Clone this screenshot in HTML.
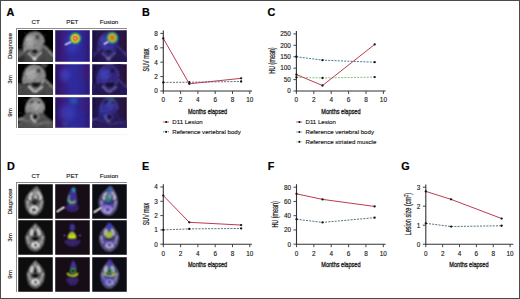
<!DOCTYPE html>
<html><head><meta charset="utf-8"><title>Figure</title>
<style>
html,body{margin:0;padding:0;background:#fff;}
body{width:520px;height:299px;overflow:hidden;font-family:"Liberation Sans", sans-serif;}
svg{display:block;}
</style></head><body>
<svg width="520" height="299" viewBox="0 0 520 299" font-family='"Liberation Sans", sans-serif'>
<defs>
<filter id="b4" x="-20%" y="-20%" width="140%" height="140%"><feConvolveMatrix order="3" kernelMatrix="1 2 1 2 8 2 1 2 1" edgeMode="none"/></filter>
<filter id="b6" x="-20%" y="-20%" width="140%" height="140%"><feConvolveMatrix order="3" kernelMatrix="1 2 1 2 4 2 1 2 1" edgeMode="none"/></filter>
<filter id="cb" x="-5%" y="-5%" width="110%" height="110%"><feConvolveMatrix order="3" kernelMatrix="1 2 1 2 6 2 1 2 1" edgeMode="duplicate"/></filter>
<filter id="b10" x="-30%" y="-30%" width="160%" height="160%"><feGaussianBlur stdDeviation="1.0"/></filter>
<filter id="b15" x="-50%" y="-50%" width="200%" height="200%"><feGaussianBlur stdDeviation="1.5"/></filter>
<filter id="b25" x="-50%" y="-50%" width="200%" height="200%"><feGaussianBlur stdDeviation="2.5"/></filter>
<filter id="mot" x="-10%" y="-10%" width="120%" height="120%">
 <feTurbulence type="fractalNoise" baseFrequency="0.55" numOctaves="2" seed="4" result="t"/>
 <feColorMatrix in="t" type="matrix" values="0 0 0 0 0  0 0 0 0 0  0 0 0 0 0  2.2 0 0 0 -0.85" result="dk"/>
 <feComposite in="dk" in2="SourceAlpha" operator="in" result="dk2"/>
 <feMerge result="m"><feMergeNode in="SourceGraphic"/><feMergeNode in="dk2"/></feMerge>
 <feConvolveMatrix in="m" order="3" kernelMatrix="1 2 1 2 8 2 1 2 1" edgeMode="none"/>
</filter>
<filter id="mot2" x="-10%" y="-10%" width="120%" height="120%">
 <feTurbulence type="fractalNoise" baseFrequency="0.45" numOctaves="2" seed="9" result="t"/>
 <feColorMatrix in="t" type="matrix" values="0 0 0 0 0  0 0 0 0 0  0 0 0 0 0  1.3 0 0 0 -0.5" result="dk"/>
 <feComposite in="dk" in2="SourceAlpha" operator="in" result="dk2"/>
 <feMerge result="m"><feMergeNode in="SourceGraphic"/><feMergeNode in="dk2"/></feMerge>
 <feConvolveMatrix in="m" order="3" kernelMatrix="1 2 1 2 4 2 1 2 1" edgeMode="none"/>
</filter>
<filter id="mot3" x="-10%" y="-10%" width="120%" height="120%">
 <feTurbulence type="fractalNoise" baseFrequency="0.5" numOctaves="2" seed="7" result="t"/>
 <feColorMatrix in="t" type="matrix" values="0 0 0 0 0.07  0 0 0 0 0.04  0 0 0 0 0.07  3 0 0 0 -1.1" result="dk"/>
 <feComposite in="dk" in2="SourceAlpha" operator="in" result="dk2"/>
 <feMerge result="m"><feMergeNode in="SourceGraphic"/><feMergeNode in="dk2"/></feMerge>
 <feConvolveMatrix in="m" order="3" kernelMatrix="1 2 1 2 6 2 1 2 1" edgeMode="none"/>
</filter>
<filter id="gb" x="0" y="0" width="520" height="299" filterUnits="userSpaceOnUse"><feConvolveMatrix order="3" kernelMatrix="1 2 1 2 20 2 1 2 1" edgeMode="none"/></filter>
<radialGradient id="hot">
 <stop offset="0" stop-color="#fff8f0"/>
 <stop offset="0.08" stop-color="#ffd8c8"/>
 <stop offset="0.17" stop-color="#e83a22"/>
 <stop offset="0.3" stop-color="#d83a1c"/>
 <stop offset="0.4" stop-color="#f0c020"/>
 <stop offset="0.5" stop-color="#c8e030"/>
 <stop offset="0.62" stop-color="#48b040"/>
 <stop offset="0.78" stop-color="#2a7a78" stop-opacity="0.8"/>
 <stop offset="0.9" stop-color="#2838a8" stop-opacity="0.5"/>
 <stop offset="1" stop-color="#3030b0" stop-opacity="0"/>
</radialGradient>
<radialGradient id="hotf">
 <stop offset="0" stop-color="#d88a30"/>
 <stop offset="0.2" stop-color="#c86a20"/>
 <stop offset="0.36" stop-color="#c4a030"/>
 <stop offset="0.5" stop-color="#a4b840"/>
 <stop offset="0.68" stop-color="#40a050"/>
 <stop offset="0.85" stop-color="#2a5aa0" stop-opacity="0.6"/>
 <stop offset="1" stop-color="#3030a0" stop-opacity="0"/>
</radialGradient>
<linearGradient id="petbg" x1="0" y1="0" x2="1" y2="0">
 <stop offset="0" stop-color="#2a1262"/>
 <stop offset="0.22" stop-color="#3a1c7c"/>
 <stop offset="0.45" stop-color="#2e2a9c"/>
 <stop offset="0.75" stop-color="#2e2896"/>
 <stop offset="1" stop-color="#2c1872"/>
</linearGradient>
<linearGradient id="fusbg" x1="0" y1="0" x2="1" y2="0">
 <stop offset="0" stop-color="#1e1040"/>
 <stop offset="0.5" stop-color="#241a56"/>
 <stop offset="1" stop-color="#2a1038"/>
</linearGradient>
</defs>
<rect width="520" height="299" fill="#fff"/>
<g>
<text x="6.6" y="15.8" font-size="10.8" fill="#000" text-anchor="start" font-weight="bold" stroke="#000" stroke-width="0.2" >A</text>
<text x="142" y="15.8" font-size="10.8" fill="#000" text-anchor="start" font-weight="bold" stroke="#000" stroke-width="0.2" >B</text>
<text x="267.5" y="16" font-size="10.8" fill="#000" text-anchor="start" font-weight="bold" stroke="#000" stroke-width="0.2" >C</text>
<text x="6.9" y="169.5" font-size="10.8" fill="#000" text-anchor="start" font-weight="bold" stroke="#000" stroke-width="0.2" >D</text>
<text x="142" y="169.5" font-size="10.8" fill="#000" text-anchor="start" font-weight="bold" stroke="#000" stroke-width="0.2" >E</text>
<text x="267.8" y="169.5" font-size="10.8" fill="#000" text-anchor="start" font-weight="bold" stroke="#000" stroke-width="0.2" >F</text>
<text x="401.3" y="169.7" font-size="10.8" fill="#000" text-anchor="start" font-weight="bold" stroke="#000" stroke-width="0.2" >G</text>
<rect x="16" y="28" width="111" height="1" fill="#8c8c8c"/>
<rect x="16" y="28" width="1" height="100" fill="#8c8c8c"/>
<svg x="18" y="30" width="35" height="32" viewBox="18 30 35 32" overflow="hidden"><g filter="url(#cb)">
<g transform="translate(18,30)" filter="url(#mot2)">
<rect x="-2" y="-2" width="39" height="36" fill="#0a0a0a"/>
<path d="M-1,20 C3,19 6,20 7,21 L22,20 C24,17 25,16 26,15.5 C29,17 33,21 36,24 L36,33 L-1,33 Z" fill="#505050"/>
<ellipse cx="3" cy="29" rx="4" ry="3" fill="#1a1a1a" opacity="0.6" filter="url(#b10)"/>
<path d="M6.4,21.5 C5,14 7,4 15.5,2.7 C21,2 25.5,6 25.5,12 C25.5,15 24.5,18 22.5,20.5 C18,19 11,19 6.4,21.5 Z" fill="#939393"/>
<ellipse cx="12" cy="11" rx="4" ry="6.5" fill="#b2b2b2" filter="url(#b10)"/>
<path d="M6.4,21.5 C5,14 7,4 15.5,2.7 C21,2 25.5,6 25.5,12" fill="none" stroke="#d0d0d0" stroke-width="0.9" opacity="0.8"/>
<ellipse cx="19.5" cy="7" rx="2" ry="2.6" fill="#404040" filter="url(#b6)"/>
<path d="M11.8,21.5 L16.5,17.7 L21.4,21.3 L17,25.2 Z" fill="#1a1a1a" stroke="#d0d0d0" stroke-width="0.8"/>
<path d="M10,23 L15,27.5 L16.5,30 L18.5,27 L23.5,22" fill="none" stroke="#eeeeee" stroke-width="1.2" opacity="0.85"/>
<ellipse cx="16.5" cy="28.5" rx="1.6" ry="1.6" fill="#eeeeee"/>
<path d="M25.7,16 L35,25.7" stroke="#a8a8a8" stroke-width="1.3"/>
<path d="M6.4,21.5 L0,27" stroke="#a8a8a8" stroke-width="0.8"/>
</g>
</g></svg>
<svg x="55" y="30" width="35" height="32" viewBox="55 30 35 32" overflow="hidden"><g filter="url(#cb)">
<g transform="translate(55,30)">
<rect x="0" y="0" width="35" height="32" fill="url(#petbg)"/>
<ellipse cx="17" cy="14" rx="7" ry="9" fill="#3a40c8" opacity="0.55" filter="url(#b25)"/>
<circle cx="20.3" cy="8.4" r="7.2" fill="url(#hot)"/>
<line x1="10.7" y1="14.5" x2="15.8" y2="12" stroke="#e4e0ff" stroke-width="1.3" stroke-linecap="round"/>
</g></g></svg>
<svg x="92" y="30" width="35" height="32" viewBox="92 30 35 32" overflow="hidden"><g filter="url(#cb)">
<rect x="92" y="30" width="35" height="32" fill="url(#fusbg)"/>
<g transform="translate(92,30)" filter="url(#mot2)">
<path d="M-1,20 C3,19 6,20 7,21 L22,20 C24,17 25,16 26,15.5 C29,17 33,21 36,24 L36,33 L-1,33 Z" fill="#2a1e5c"/>
<ellipse cx="3" cy="29" rx="4" ry="3" fill="#1c1244" opacity="0.6" filter="url(#b10)"/>
<path d="M6.4,21.5 C5,14 7,4 15.5,2.7 C21,2 25.5,6 25.5,12 C25.5,15 24.5,18 22.5,20.5 C18,19 11,19 6.4,21.5 Z" fill="#382c88"/>
<ellipse cx="12" cy="11" rx="4" ry="6.5" fill="#4640a8" filter="url(#b10)"/>
<path d="M6.4,21.5 C5,14 7,4 15.5,2.7 C21,2 25.5,6 25.5,12" fill="none" stroke="#5e54a8" stroke-width="0.9" opacity="0.8"/>
<ellipse cx="19.5" cy="7" rx="2" ry="2.6" fill="#221850" filter="url(#b6)"/>
<path d="M11.8,21.5 L16.5,17.7 L21.4,21.3 L17,25.2 Z" fill="#1c1244" stroke="#5e54a8" stroke-width="0.8"/>
<path d="M10,23 L15,27.5 L16.5,30 L18.5,27 L23.5,22" fill="none" stroke="#8076c4" stroke-width="1.2" opacity="0.85"/>
<ellipse cx="16.5" cy="28.5" rx="1.6" ry="1.6" fill="#8076c4"/>
<path d="M25.7,16 L35,25.7" stroke="#52489c" stroke-width="1.3"/>
<path d="M6.4,21.5 L0,27" stroke="#52489c" stroke-width="0.8"/>
</g>
<g transform="translate(92,30)">
<ellipse cx="17" cy="14" rx="6" ry="8" fill="#3a44d0" opacity="0.35" filter="url(#b25)"/>
<circle cx="20.3" cy="7.8" r="7" fill="url(#hotf)"/>
<line x1="12.3" y1="13.9" x2="16" y2="11.8" stroke="#e4e0ff" stroke-width="1.2" stroke-linecap="round"/>
</g></g></svg>
<svg x="18" y="64" width="35" height="31" viewBox="18 64 35 31" overflow="hidden"><g filter="url(#cb)">
<g transform="translate(18,64)" filter="url(#mot2)">
<rect x="-2" y="-2" width="39" height="36" fill="#0a0a0a"/>
<path d="M-1,20 C3,19 5,20 6,20.5 L24.5,19.5 C25,17 25.5,16 26,15 C29,17 33,20 36,23 L36,32 L-1,32 Z" fill="#505050"/>
<path d="M22,-1 L30,-1 C29,2 27,4 25,4 Z" fill="#505050"/>
<path d="M5.7,20 C4.5,10 8,1.6 16,1.6 C23,1.6 27,6 26.9,13 C26.8,17 25.5,19 24.5,20 C18,18 11,18 5.7,20 Z" fill="#939393"/>
<ellipse cx="13" cy="10" rx="5" ry="6" fill="#b2b2b2" filter="url(#b10)"/>
<path d="M5.7,20 C4.5,10 8,1.6 16,1.6 C23,1.6 27,6 26.9,13" fill="none" stroke="#d0d0d0" stroke-width="0.9" opacity="0.8"/>
<ellipse cx="20.7" cy="6.7" rx="2" ry="2.4" fill="#404040"/>
<path d="M11.4,18.5 C15,17 21,17 24.8,18 L21,24 L15,24.5 Z" fill="#1a1a1a" stroke="#d0d0d0" stroke-width="0.7"/>
<path d="M10.4,22.3 L15.5,27 L18,27.5 L24.8,22.5" fill="none" stroke="#eeeeee" stroke-width="1.5"/>
<path d="M26,15 L35,24" stroke="#a8a8a8" stroke-width="1.2"/>
</g>
</g></svg>
<svg x="55" y="64" width="35" height="31" viewBox="55 64 35 31" overflow="hidden"><g filter="url(#cb)">
<g transform="translate(55,64)">
<rect x="0" y="0" width="35" height="31" fill="url(#petbg)"/>
<ellipse cx="10" cy="11" rx="5" ry="6" fill="#4048d0" opacity="0.7" filter="url(#b25)"/>
<ellipse cx="31" cy="9" rx="4" ry="7" fill="#4a1a68" opacity="0.6" filter="url(#b25)"/>
</g></g></svg>
<svg x="92" y="64" width="35" height="31" viewBox="92 64 35 31" overflow="hidden"><g filter="url(#cb)">
<rect x="92" y="64" width="35" height="31" fill="url(#fusbg)"/>
<g transform="translate(92,64)" filter="url(#mot2)">
<path d="M-1,20 C3,19 5,20 6,20.5 L24.5,19.5 C25,17 25.5,16 26,15 C29,17 33,20 36,23 L36,32 L-1,32 Z" fill="#2a1e5c"/>
<path d="M22,-1 L30,-1 C29,2 27,4 25,4 Z" fill="#2a1e5c"/>
<path d="M5.7,20 C4.5,10 8,1.6 16,1.6 C23,1.6 27,6 26.9,13 C26.8,17 25.5,19 24.5,20 C18,18 11,18 5.7,20 Z" fill="#382c88"/>
<ellipse cx="13" cy="10" rx="5" ry="6" fill="#4640a8" filter="url(#b10)"/>
<path d="M5.7,20 C4.5,10 8,1.6 16,1.6 C23,1.6 27,6 26.9,13" fill="none" stroke="#5e54a8" stroke-width="0.9" opacity="0.8"/>
<ellipse cx="20.7" cy="6.7" rx="2" ry="2.4" fill="#221850"/>
<path d="M11.4,18.5 C15,17 21,17 24.8,18 L21,24 L15,24.5 Z" fill="#1c1244" stroke="#5e54a8" stroke-width="0.7"/>
<path d="M10.4,22.3 L15.5,27 L18,27.5 L24.8,22.5" fill="none" stroke="#8076c4" stroke-width="1.5"/>
<path d="M26,15 L35,24" stroke="#52489c" stroke-width="1.2"/>
</g>
<g transform="translate(92,64)">
<ellipse cx="11" cy="12" rx="5" ry="6" fill="#3a44d0" opacity="0.5" filter="url(#b25)"/>
</g></g></svg>
<svg x="18" y="97" width="35" height="31" viewBox="18 97 35 31" overflow="hidden"><g filter="url(#cb)">
<g transform="translate(18,97)" filter="url(#mot2)">
<rect x="-2" y="-2" width="39" height="36" fill="#0a0a0a"/>
<path d="M-1,27 C3,24 6,19 9,15.5 L24.5,16 C27,18 31,23 36,25 L36,32 L-1,32 Z" fill="#5a5a5a"/>
<path d="M8.3,15.5 C8,6 12,1 17,1 C22,1 25.9,6 25.9,12 C25.9,14 25,15.5 24,16.5 C19,15.5 13,15.5 8.3,15.5 Z" fill="#939393"/>
<ellipse cx="18.5" cy="9" rx="5" ry="4" fill="#b2b2b2" filter="url(#b10)"/>
<path d="M8.3,15.5 C8,6 12,1 17,1 C22,1 25.9,6 25.9,12" fill="none" stroke="#d0d0d0" stroke-width="0.9"/>
<ellipse cx="14" cy="5" rx="1.6" ry="1.4" fill="#404040"/>
<ellipse cx="21" cy="5.5" rx="1.6" ry="1.4" fill="#404040"/>
<circle cx="17.1" cy="19.7" r="3.5" fill="#1a1a1a" stroke="#d0d0d0" stroke-width="0.9"/>
<path d="M13.6,18 C13,21 14,23 16,24 L18,25" fill="none" stroke="#eeeeee" stroke-width="1.3"/>
<path d="M0,23 L6,21" stroke="#a8a8a8" stroke-width="1.4"/>
<path d="M5,24 C10,22 12,26 17,27 C23,27 27,25 33,26" stroke="#a8a8a8" stroke-width="0.7" fill="none"/>
</g>
</g></svg>
<svg x="55" y="97" width="35" height="31" viewBox="55 97 35 31" overflow="hidden"><g filter="url(#cb)">
<g transform="translate(55,97)">
<rect x="0" y="0" width="35" height="31" fill="url(#petbg)"/>
<ellipse cx="18.5" cy="4" rx="4" ry="3" fill="#2a78b8" opacity="0.55" filter="url(#b15)"/>
<ellipse cx="12" cy="16" rx="8" ry="8" fill="#4048c8" opacity="0.5" filter="url(#b25)"/>
<ellipse cx="30" cy="9" rx="4" ry="6" fill="#4a1a68" opacity="0.6" filter="url(#b25)"/>
<ellipse cx="10" cy="27" rx="2.5" ry="2" fill="#2a78a8" opacity="0.45" filter="url(#b15)"/>
</g></g></svg>
<svg x="92" y="97" width="35" height="31" viewBox="92 97 35 31" overflow="hidden"><g filter="url(#cb)">
<rect x="92" y="97" width="35" height="31" fill="url(#fusbg)"/>
<g transform="translate(92,97)" filter="url(#mot2)">
<path d="M-1,27 C3,24 6,19 9,15.5 L24.5,16 C27,18 31,23 36,25 L36,32 L-1,32 Z" fill="#2e2264"/>
<path d="M8.3,15.5 C8,6 12,1 17,1 C22,1 25.9,6 25.9,12 C25.9,14 25,15.5 24,16.5 C19,15.5 13,15.5 8.3,15.5 Z" fill="#382c88"/>
<ellipse cx="18.5" cy="9" rx="5" ry="4" fill="#4640a8" filter="url(#b10)"/>
<path d="M8.3,15.5 C8,6 12,1 17,1 C22,1 25.9,6 25.9,12" fill="none" stroke="#5e54a8" stroke-width="0.9"/>
<ellipse cx="14" cy="5" rx="1.6" ry="1.4" fill="#221850"/>
<ellipse cx="21" cy="5.5" rx="1.6" ry="1.4" fill="#221850"/>
<circle cx="17.1" cy="19.7" r="3.5" fill="#1c1244" stroke="#5e54a8" stroke-width="0.9"/>
<path d="M13.6,18 C13,21 14,23 16,24 L18,25" fill="none" stroke="#8076c4" stroke-width="1.3"/>
<path d="M0,23 L6,21" stroke="#52489c" stroke-width="1.4"/>
<path d="M5,24 C10,22 12,26 17,27 C23,27 27,25 33,26" stroke="#52489c" stroke-width="0.7" fill="none"/>
</g>
<g transform="translate(92,97)">
<ellipse cx="12" cy="15" rx="6" ry="7" fill="#3a44d0" opacity="0.4" filter="url(#b25)"/>
<ellipse cx="19" cy="3.5" rx="3" ry="2.5" fill="#2e9a90" opacity="0.45" filter="url(#b15)"/>
</g></g></svg>
<text x="35.6" y="24.3" font-size="6.2" fill="#222" text-anchor="middle" font-weight="normal" stroke="#222" stroke-width="0.14" >CT</text>
<text x="72.3" y="24.3" font-size="6.2" fill="#222" text-anchor="middle" font-weight="normal" stroke="#222" stroke-width="0.14" >PET</text>
<text x="109" y="24.3" font-size="6.2" fill="#222" text-anchor="middle" font-weight="normal" stroke="#222" stroke-width="0.14" >Fusion</text>
<text transform="translate(12,46.0) rotate(-90)" font-size="6.2" fill="#222" stroke="#222" stroke-width="0.14" text-anchor="middle">Diagnose</text>
<text transform="translate(12,79.5) rotate(-90)" font-size="6.2" fill="#222" stroke="#222" stroke-width="0.14" text-anchor="middle">3m</text>
<text transform="translate(12,112.5) rotate(-90)" font-size="6.2" fill="#222" stroke="#222" stroke-width="0.14" text-anchor="middle">9m</text>
<rect x="16" y="134" width="111" height="0.6" fill="#eee"/>
<rect x="16" y="182" width="111" height="1" fill="#8c8c8c"/>
<rect x="16" y="182" width="1" height="110" fill="#8c8c8c"/>
<svg x="18" y="184" width="35" height="35" viewBox="18 184 35 35" overflow="hidden"><g filter="url(#cb)">
<rect x="18" y="184" width="35" height="35" fill="#0a0a0a"/>
<g transform="translate(18,184)" filter="url(#mot)" opacity="1">
<path d="M18.7,2.3 C21,5 25,11 25.2,17.6 C25.5,24 22,31 16.5,31 C11,31 7.5,25 7.2,18 C7,12 14,6 18.7,2.3 Z" fill="#7c7c7c" stroke="#6a6a6a" stroke-width="0.7"/>
<path d="M18.7,3.2 C19.8,5 21,7.5 21,9.5 L16.3,9.5 C16.8,7 17.8,5 18.7,3.2 Z" fill="#b0b0b0"/>
<path d="M12,15.5 C11.5,12 13,9.5 15.5,9 M19.8,9 C22,9.5 23,12 22.6,15.5" stroke="#f6f6f6" stroke-width="2.2" fill="none"/>
<ellipse cx="17.5" cy="12.5" rx="1.6" ry="2.2" fill="#c4c4c4"/>
<ellipse cx="17" cy="18" rx="3.6" ry="3" fill="#3a3a3a"/>
<ellipse cx="16.4" cy="19.3" rx="1.7" ry="1.5" fill="#0e0e0e"/>
<path d="M9.5,17 C9.5,21 10.5,24 12,26 M23.8,17 C23.5,21 22.5,24 21,26" stroke="#c4c4c4" stroke-width="1.3" fill="none"/>
<ellipse cx="15.9" cy="25.7" rx="3.5" ry="3" fill="none" stroke="#f6f6f6" stroke-width="2"/>
<ellipse cx="15.9" cy="25.9" rx="1.3" ry="1.1" fill="#0e0e0e"/>
</g>
</g></svg>
<svg x="55" y="184" width="35" height="35" viewBox="55 184 35 35" overflow="hidden"><g filter="url(#cb)">
<rect x="55" y="184" width="35" height="35" fill="#130a12"/>
<g transform="translate(55,184)">
<path d="M10,23.5 C11.5,20.5 14.5,20 17,20 C20,20 23,20.5 24.5,23.5 C23,27 20,28 17,28 C14,28 11.5,27 10,23.5 Z" fill="#3e22a0" opacity="0.75" filter="url(#mot3)"/>
<path d="M17.6,3 C20,5 21.5,8 21.5,12 C22.5,15 22.5,18 21.5,21 C19.5,23 14.5,23 13,21 C12,18 12,15 13,12 C14,8 16,5 17.6,3 Z" fill="#3a2cb0" filter="url(#mot3)"/>
<ellipse cx="18.8" cy="6" rx="1.6" ry="2.4" fill="#2a9ab8" filter="url(#b6)"/>
<path d="M15,11.5 C13,13 13,17 15,18.5 C17,19.5 19.5,18.5 20.3,16.5" stroke="#50c060" stroke-width="1.4" fill="none" filter="url(#b4)"/>
<path d="M14.2,16 C15,18.8 18,19.2 20,17.5" stroke="#b8e040" stroke-width="1" fill="none" filter="url(#b4)"/>
<line x1="2.3" y1="27.5" x2="8.8" y2="23.4" stroke="#f0f0f0" stroke-width="1.3" stroke-linecap="round"/>
</g></g></svg>
<svg x="92" y="184" width="35" height="35" viewBox="92 184 35 35" overflow="hidden"><g filter="url(#cb)">
<rect x="92" y="184" width="35" height="35" fill="#0e0a12"/>
<g transform="translate(92,184)" filter="url(#mot)" opacity="1">
<path d="M18.7,2.3 C21,5 25,11 25.2,17.6 C25.5,24 22,31 16.5,31 C11,31 7.5,25 7.2,18 C7,12 14,6 18.7,2.3 Z" fill="#5a5490" stroke="#8c86bc" stroke-width="0.7"/>
<path d="M18.7,3.2 C19.8,5 21,7.5 21,9.5 L16.3,9.5 C16.8,7 17.8,5 18.7,3.2 Z" fill="#8a84c0"/>
<path d="M12,15.5 C11.5,12 13,9.5 15.5,9 M19.8,9 C22,9.5 23,12 22.6,15.5" stroke="#e0dcf4" stroke-width="2.2" fill="none"/>
<ellipse cx="17.5" cy="12.5" rx="1.6" ry="2.2" fill="#b8b2dc"/>
<ellipse cx="17" cy="18" rx="3.6" ry="3" fill="#2a2260"/>
<ellipse cx="16.4" cy="19.3" rx="1.7" ry="1.5" fill="#140e2a"/>
<path d="M9.5,17 C9.5,21 10.5,24 12,26 M23.8,17 C23.5,21 22.5,24 21,26" stroke="#b8b2dc" stroke-width="1.3" fill="none"/>
<ellipse cx="15.9" cy="25.7" rx="3.5" ry="3" fill="none" stroke="#e0dcf4" stroke-width="2"/>
<ellipse cx="15.9" cy="25.9" rx="1.3" ry="1.1" fill="#140e2a"/>
</g>
<g transform="translate(92,184)">
<ellipse cx="17.6" cy="6" rx="2" ry="3" fill="#2a6ab0" opacity="0.8" filter="url(#b6)"/>
<ellipse cx="16.4" cy="15.2" rx="3" ry="3.5" fill="#2a9a80" opacity="0.8" filter="url(#b6)"/>
<ellipse cx="14" cy="25.2" rx="3.8" ry="3.2" fill="none" stroke="#a890f0" stroke-width="1.6" filter="url(#b4)"/>
<ellipse cx="16" cy="22" rx="6" ry="5" fill="#5a40c8" opacity="0.45" filter="url(#b10)"/>
<line x1="2.3" y1="28.1" x2="8.8" y2="24" stroke="#f0f0f0" stroke-width="1.3" stroke-linecap="round"/>
</g></g></svg>
<svg x="18" y="220" width="35" height="35" viewBox="18 220 35 35" overflow="hidden"><g filter="url(#cb)">
<rect x="18" y="220" width="35" height="35" fill="#0a0a0a"/>
<g transform="translate(18,220)" filter="url(#mot)" opacity="1">
<path d="M17.6,3.5 C20,6 26,12 26.3,17.6 C26.5,25 22,31 17,31 C12,31 7.8,25 7.8,17.6 C8.2,12 15,6 17.6,3.5 Z" fill="#7c7c7c" stroke="#6a6a6a" stroke-width="0.7"/>
<path d="M17.6,4.2 C18.4,5.5 19,7 19,8.8 L16.2,8.8 C16.4,7 17,5.5 17.6,4.2 Z" fill="#b0b0b0"/>
<path d="M12.2,15 C11.8,11 13,8.8 15.3,8.5 L15.8,11.5 L15.2,15 Z" fill="#f6f6f6"/>
<path d="M19.2,8.5 C21.3,8.8 22.7,11 22.4,15.2 L19.6,14.8 L18.9,11.5 Z" fill="#f6f6f6"/>
<path d="M15.8,11.5 L18.9,11.5 L19.2,15.5 L15.5,15.5 Z" fill="#0e0e0e"/>
<ellipse cx="17.2" cy="18.6" rx="3.6" ry="2.2" fill="#0e0e0e"/>
<path d="M9.1,16 C9.3,19 10.3,22 11.8,24 M25,16 C24.8,19 24,22 22.5,24" stroke="#c4c4c4" stroke-width="1.3" fill="none"/>
<ellipse cx="17.6" cy="25.3" rx="4.2" ry="3.3" fill="#f6f6f6"/>
<ellipse cx="17.6" cy="25" rx="1.5" ry="1.2" fill="#0e0e0e"/>
</g>
</g></svg>
<svg x="55" y="220" width="35" height="35" viewBox="55 220 35 35" overflow="hidden"><g filter="url(#cb)">
<rect x="55" y="220" width="35" height="35" fill="#130a12"/>
<g transform="translate(55,220)">
<path d="M9,21 C11,18.5 23,18.5 26,21 C24,25 21,26.5 17.5,26.5 C14,26.5 11,25 9,21 Z" fill="#3c22a0" opacity="0.75" filter="url(#mot3)"/>
<ellipse cx="17.3" cy="7.5" rx="2.6" ry="3.8" fill="#3430b4" filter="url(#mot3)"/>
<path d="M12.8,18 C13.2,15 15,12 17,12 C19,12 20.8,15 21.2,18 C19,18.8 15,18.8 12.8,18 Z" fill="#dce820" filter="url(#b4)"/>
<ellipse cx="16.8" cy="14.8" rx="1.5" ry="1.3" fill="#50b060" filter="url(#b4)"/>
<circle cx="9.5" cy="15.5" r="0.9" fill="#6a38b0"/><circle cx="25" cy="15.5" r="0.9" fill="#6a38b0"/>
</g></g></svg>
<svg x="92" y="220" width="35" height="35" viewBox="92 220 35 35" overflow="hidden"><g filter="url(#cb)">
<rect x="92" y="220" width="35" height="35" fill="#0e0a12"/>
<g transform="translate(92,220)" filter="url(#mot)" opacity="1">
<path d="M17.6,3.5 C20,6 26,12 26.3,17.6 C26.5,25 22,31 17,31 C12,31 7.8,25 7.8,17.6 C8.2,12 15,6 17.6,3.5 Z" fill="#5a5490" stroke="#8c86bc" stroke-width="0.7"/>
<path d="M17.6,4.2 C18.4,5.5 19,7 19,8.8 L16.2,8.8 C16.4,7 17,5.5 17.6,4.2 Z" fill="#8a84c0"/>
<path d="M12.2,15 C11.8,11 13,8.8 15.3,8.5 L15.8,11.5 L15.2,15 Z" fill="#e0dcf4"/>
<path d="M19.2,8.5 C21.3,8.8 22.7,11 22.4,15.2 L19.6,14.8 L18.9,11.5 Z" fill="#e0dcf4"/>
<path d="M15.8,11.5 L18.9,11.5 L19.2,15.5 L15.5,15.5 Z" fill="#140e2a"/>
<ellipse cx="17.2" cy="18.6" rx="3.6" ry="2.2" fill="#140e2a"/>
<path d="M9.1,16 C9.3,19 10.3,22 11.8,24 M25,16 C24.8,19 24,22 22.5,24" stroke="#b8b2dc" stroke-width="1.3" fill="none"/>
<ellipse cx="17.6" cy="25.3" rx="4.2" ry="3.3" fill="#e0dcf4"/>
<ellipse cx="17.6" cy="25" rx="1.5" ry="1.2" fill="#140e2a"/>
</g>
<g transform="translate(92,220)">
<ellipse cx="17.3" cy="6.5" rx="2.5" ry="3.5" fill="#3038c0" opacity="0.85" filter="url(#b6)"/>
<ellipse cx="17" cy="15" rx="3.6" ry="3.4" fill="#a0c030" filter="url(#b4)"/>
<ellipse cx="17" cy="22" rx="6" ry="4" fill="#5a40c8" opacity="0.45" filter="url(#b10)"/>
</g></g></svg>
<svg x="18" y="257" width="35" height="35" viewBox="18 257 35 35" overflow="hidden"><g filter="url(#cb)">
<rect x="18" y="257" width="35" height="35" fill="#0a0a0a"/>
<g transform="translate(18,257)" filter="url(#mot)" opacity="1">
<path d="M17.6,3.5 C20,6 26,12 26.3,17.6 C26.5,25 22,31 17,31 C12,31 9.2,25 9.2,17.6 C9.6,12 15,6 17.6,3.5 Z" fill="#7c7c7c" stroke="#6a6a6a" stroke-width="0.7"/>
<path d="M17.6,4.2 C18.4,5.5 19,7 19,8.8 L16.2,8.8 C16.4,7 17,5.5 17.6,4.2 Z" fill="#b0b0b0"/>
<path d="M12.2,15 C11.8,11 13,8.8 15.3,8.5 L15.8,11.5 L15.2,15 Z" fill="#f6f6f6"/>
<path d="M19.2,8.5 C21.3,8.8 22.7,11 22.4,15.2 L19.6,14.8 L18.9,11.5 Z" fill="#f6f6f6"/>
<path d="M15.8,11.5 L18.9,11.5 L19.2,15.5 L15.5,15.5 Z" fill="#0e0e0e"/>
<ellipse cx="17.2" cy="18.6" rx="3.6" ry="2.2" fill="#0e0e0e"/>
<path d="M10.5,16 C10.7,19 11.7,22 13.2,24 M25,16 C24.8,19 24,22 22.5,24" stroke="#c4c4c4" stroke-width="1.3" fill="none"/>
<ellipse cx="17.6" cy="25.3" rx="4.2" ry="3.3" fill="#f6f6f6"/>
<ellipse cx="17.6" cy="25" rx="1.5" ry="1.2" fill="#0e0e0e"/>
</g>
</g></svg>
<svg x="55" y="257" width="35" height="35" viewBox="55 257 35 35" overflow="hidden"><g filter="url(#cb)">
<rect x="55" y="257" width="35" height="35" fill="#130a12"/>
<g transform="translate(55,257)">
<path d="M11,22 C12.5,19.5 22.5,19.5 24,22 C23,26.5 20.5,28.5 17.5,28.5 C14.5,28.5 12,26.5 11,22 Z" fill="#3c22a0" opacity="0.75" filter="url(#mot3)"/>
<path d="M18,3 C20,6 21.7,9 21.7,11.7 L15.2,11.7 C15.5,8.5 16.5,5.5 18,3 Z" fill="#4430b4" filter="url(#mot3)"/>
<circle cx="18.1" cy="14" r="2.3" fill="none" stroke="#40b060" stroke-width="1.2" filter="url(#b4)"/>
<path d="M12.5,16 C14,19.5 21,20 22.6,16.2" stroke="#d4e028" stroke-width="1.8" fill="none" filter="url(#b4)"/>
</g></g></svg>
<svg x="92" y="257" width="35" height="35" viewBox="92 257 35 35" overflow="hidden"><g filter="url(#cb)">
<rect x="92" y="257" width="35" height="35" fill="#0e0a12"/>
<g transform="translate(92,257)" filter="url(#mot)" opacity="1">
<path d="M17.6,3.5 C20,6 26,12 26.3,17.6 C26.5,25 22,31 17,31 C12,31 9.2,25 9.2,17.6 C9.6,12 15,6 17.6,3.5 Z" fill="#5a5490" stroke="#8c86bc" stroke-width="0.7"/>
<path d="M17.6,4.2 C18.4,5.5 19,7 19,8.8 L16.2,8.8 C16.4,7 17,5.5 17.6,4.2 Z" fill="#8a84c0"/>
<path d="M12.2,15 C11.8,11 13,8.8 15.3,8.5 L15.8,11.5 L15.2,15 Z" fill="#e0dcf4"/>
<path d="M19.2,8.5 C21.3,8.8 22.7,11 22.4,15.2 L19.6,14.8 L18.9,11.5 Z" fill="#e0dcf4"/>
<path d="M15.8,11.5 L18.9,11.5 L19.2,15.5 L15.5,15.5 Z" fill="#140e2a"/>
<ellipse cx="17.2" cy="18.6" rx="3.6" ry="2.2" fill="#140e2a"/>
<path d="M10.5,16 C10.7,19 11.7,22 13.2,24 M25,16 C24.8,19 24,22 22.5,24" stroke="#b8b2dc" stroke-width="1.3" fill="none"/>
<ellipse cx="17.6" cy="25.3" rx="4.2" ry="3.3" fill="#e0dcf4"/>
<ellipse cx="17.6" cy="25" rx="1.5" ry="1.2" fill="#140e2a"/>
</g>
<g transform="translate(92,257)">
<ellipse cx="18" cy="6" rx="2.5" ry="3.5" fill="#4a30b0" opacity="0.8" filter="url(#b6)"/>
<circle cx="18.1" cy="14" r="2.4" fill="none" stroke="#40b070" stroke-width="1.3" filter="url(#b4)"/>
<path d="M12.3,16 C14,20 21,20.5 22.8,16.2" stroke="#c8e030" stroke-width="1.9" fill="none" filter="url(#b4)"/>
<ellipse cx="16" cy="23" rx="6" ry="4.5" fill="#4a40d0" opacity="0.55" filter="url(#b10)"/>
</g></g></svg>
<text x="35.6" y="177.9" font-size="6.2" fill="#222" text-anchor="middle" font-weight="normal" stroke="#222" stroke-width="0.14" >CT</text>
<text x="72.3" y="177.9" font-size="6.2" fill="#222" text-anchor="middle" font-weight="normal" stroke="#222" stroke-width="0.14" >PET</text>
<text x="109" y="177.9" font-size="6.2" fill="#222" text-anchor="middle" font-weight="normal" stroke="#222" stroke-width="0.14" >Fusion</text>
<text transform="translate(12,201.5) rotate(-90)" font-size="6.2" fill="#222" stroke="#222" stroke-width="0.14" text-anchor="middle">Diagnose</text>
<text transform="translate(12,237.5) rotate(-90)" font-size="6.2" fill="#222" stroke="#222" stroke-width="0.14" text-anchor="middle">3m</text>
<text transform="translate(12,274.5) rotate(-90)" font-size="6.2" fill="#222" stroke="#222" stroke-width="0.14" text-anchor="middle">9m</text>
<line x1="163.3" y1="30.4" x2="163.3" y2="91.5" stroke="#333" stroke-width="1.1"/>
<line x1="162.8" y1="91" x2="252" y2="91" stroke="#333" stroke-width="1.1"/>
<line x1="160.3" y1="91.00" x2="163.3" y2="91.00" stroke="#333" stroke-width="0.9"/>
<text x="157.8" y="93.3" font-size="6.4" fill="#222" text-anchor="end" font-weight="normal" stroke="#222" stroke-width="0.14" >0</text>
<line x1="160.3" y1="76.60" x2="163.3" y2="76.60" stroke="#333" stroke-width="0.9"/>
<text x="157.8" y="78.89999999999999" font-size="6.4" fill="#222" text-anchor="end" font-weight="normal" stroke="#222" stroke-width="0.14" >2</text>
<line x1="160.3" y1="62.20" x2="163.3" y2="62.20" stroke="#333" stroke-width="0.9"/>
<text x="157.8" y="64.5" font-size="6.4" fill="#222" text-anchor="end" font-weight="normal" stroke="#222" stroke-width="0.14" >4</text>
<line x1="160.3" y1="47.80" x2="163.3" y2="47.80" stroke="#333" stroke-width="0.9"/>
<text x="157.8" y="50.099999999999994" font-size="6.4" fill="#222" text-anchor="end" font-weight="normal" stroke="#222" stroke-width="0.14" >6</text>
<line x1="160.3" y1="33.40" x2="163.3" y2="33.40" stroke="#333" stroke-width="0.9"/>
<text x="157.8" y="35.699999999999996" font-size="6.4" fill="#222" text-anchor="end" font-weight="normal" stroke="#222" stroke-width="0.14" >8</text>
<line x1="163.30" y1="91" x2="163.30" y2="94" stroke="#333" stroke-width="0.9"/>
<text x="163.3" y="102.3" font-size="6.4" fill="#222" text-anchor="middle" font-weight="normal" stroke="#222" stroke-width="0.14" >0</text>
<line x1="180.60" y1="91" x2="180.60" y2="94" stroke="#333" stroke-width="0.9"/>
<text x="180.60000000000002" y="102.3" font-size="6.4" fill="#222" text-anchor="middle" font-weight="normal" stroke="#222" stroke-width="0.14" >2</text>
<line x1="197.90" y1="91" x2="197.90" y2="94" stroke="#333" stroke-width="0.9"/>
<text x="197.9" y="102.3" font-size="6.4" fill="#222" text-anchor="middle" font-weight="normal" stroke="#222" stroke-width="0.14" >4</text>
<line x1="215.20" y1="91" x2="215.20" y2="94" stroke="#333" stroke-width="0.9"/>
<text x="215.20000000000002" y="102.3" font-size="6.4" fill="#222" text-anchor="middle" font-weight="normal" stroke="#222" stroke-width="0.14" >6</text>
<line x1="232.50" y1="91" x2="232.50" y2="94" stroke="#333" stroke-width="0.9"/>
<text x="232.5" y="102.3" font-size="6.4" fill="#222" text-anchor="middle" font-weight="normal" stroke="#222" stroke-width="0.14" >8</text>
<line x1="249.80" y1="91" x2="249.80" y2="94" stroke="#333" stroke-width="0.9"/>
<text x="249.8" y="102.3" font-size="6.4" fill="#222" text-anchor="middle" font-weight="normal" stroke="#222" stroke-width="0.14" >10</text>
<text x="187.95" y="113.70" font-size="7.9" fill="#222" stroke="#222" stroke-width="0.36" textLength="39.2" lengthAdjust="spacingAndGlyphs">Months elapsed</text>
<text transform="translate(148.8,60) rotate(-90)" x="-11.50" y="0" font-size="8.3" fill="#222" stroke="#222" stroke-width="0.25" textLength="23" lengthAdjust="spacingAndGlyphs">SUV max</text>
<polyline points="163.30,82.43 189.25,82.22 241.15,81.50" fill="none" stroke="#44606f" stroke-width="0.9" stroke-dasharray="2,1.2"/>
<circle cx="163.30" cy="82.43" r="1.15" fill="#111"/>
<circle cx="189.25" cy="82.22" r="1.15" fill="#111"/>
<circle cx="241.15" cy="81.50" r="1.15" fill="#111"/>
<polyline points="163.30,38.44 189.25,83.80 241.15,78.33" fill="none" stroke="#b8304a" stroke-width="0.95" />
<circle cx="163.30" cy="38.44" r="1.15" fill="#111"/>
<circle cx="189.25" cy="83.80" r="1.15" fill="#111"/>
<circle cx="241.15" cy="78.33" r="1.15" fill="#111"/>
<line x1="163" y1="122" x2="169" y2="122" stroke="#b8304a" stroke-width="0.75" />
<circle cx="166.2" cy="122" r="1.1" fill="#111"/>
<text x="172.3" y="124.15" font-size="6.1" fill="#1a1a1a" text-anchor="start" font-weight="normal" stroke="#1a1a1a" stroke-width="0.14" >D11 Lesion</text>
<line x1="163" y1="131.8" x2="169" y2="131.8" stroke="#44606f" stroke-width="0.75" stroke-dasharray="1.5,1"/>
<circle cx="166.2" cy="131.8" r="1.1" fill="#111"/>
<text x="172.3" y="133.95000000000002" font-size="6.1" fill="#1a1a1a" text-anchor="start" font-weight="normal" stroke="#1a1a1a" stroke-width="0.14" >Reference vertebral body</text>
<line x1="296.4" y1="31" x2="296.4" y2="91.5" stroke="#333" stroke-width="1.1"/>
<line x1="295.9" y1="91" x2="385.6" y2="91" stroke="#333" stroke-width="1.1"/>
<line x1="293.4" y1="91.00" x2="296.4" y2="91.00" stroke="#333" stroke-width="0.9"/>
<text x="290.9" y="93.3" font-size="6.4" fill="#222" text-anchor="end" font-weight="normal" stroke="#222" stroke-width="0.14" >0</text>
<line x1="293.4" y1="79.58" x2="296.4" y2="79.58" stroke="#333" stroke-width="0.9"/>
<text x="290.9" y="81.88" font-size="6.4" fill="#222" text-anchor="end" font-weight="normal" stroke="#222" stroke-width="0.14" >50</text>
<line x1="293.4" y1="68.16" x2="296.4" y2="68.16" stroke="#333" stroke-width="0.9"/>
<text x="290.9" y="70.46" font-size="6.4" fill="#222" text-anchor="end" font-weight="normal" stroke="#222" stroke-width="0.14" >100</text>
<line x1="293.4" y1="56.74" x2="296.4" y2="56.74" stroke="#333" stroke-width="0.9"/>
<text x="290.9" y="59.04" font-size="6.4" fill="#222" text-anchor="end" font-weight="normal" stroke="#222" stroke-width="0.14" >150</text>
<line x1="293.4" y1="45.32" x2="296.4" y2="45.32" stroke="#333" stroke-width="0.9"/>
<text x="290.9" y="47.62" font-size="6.4" fill="#222" text-anchor="end" font-weight="normal" stroke="#222" stroke-width="0.14" >200</text>
<line x1="293.4" y1="33.90" x2="296.4" y2="33.90" stroke="#333" stroke-width="0.9"/>
<text x="290.9" y="36.199999999999996" font-size="6.4" fill="#222" text-anchor="end" font-weight="normal" stroke="#222" stroke-width="0.14" >250</text>
<line x1="296.40" y1="91" x2="296.40" y2="94" stroke="#333" stroke-width="0.9"/>
<text x="296.4" y="102.3" font-size="6.4" fill="#222" text-anchor="middle" font-weight="normal" stroke="#222" stroke-width="0.14" >0</text>
<line x1="313.80" y1="91" x2="313.80" y2="94" stroke="#333" stroke-width="0.9"/>
<text x="313.79999999999995" y="102.3" font-size="6.4" fill="#222" text-anchor="middle" font-weight="normal" stroke="#222" stroke-width="0.14" >2</text>
<line x1="331.20" y1="91" x2="331.20" y2="94" stroke="#333" stroke-width="0.9"/>
<text x="331.2" y="102.3" font-size="6.4" fill="#222" text-anchor="middle" font-weight="normal" stroke="#222" stroke-width="0.14" >4</text>
<line x1="348.60" y1="91" x2="348.60" y2="94" stroke="#333" stroke-width="0.9"/>
<text x="348.59999999999997" y="102.3" font-size="6.4" fill="#222" text-anchor="middle" font-weight="normal" stroke="#222" stroke-width="0.14" >6</text>
<line x1="366.00" y1="91" x2="366.00" y2="94" stroke="#333" stroke-width="0.9"/>
<text x="366.0" y="102.3" font-size="6.4" fill="#222" text-anchor="middle" font-weight="normal" stroke="#222" stroke-width="0.14" >8</text>
<line x1="383.40" y1="91" x2="383.40" y2="94" stroke="#333" stroke-width="0.9"/>
<text x="383.4" y="102.3" font-size="6.4" fill="#222" text-anchor="middle" font-weight="normal" stroke="#222" stroke-width="0.14" >10</text>
<text x="321.30" y="113.70" font-size="7.9" fill="#222" stroke="#222" stroke-width="0.36" textLength="39.2" lengthAdjust="spacingAndGlyphs">Months elapsed</text>
<text transform="translate(274.8,60.5) rotate(-90)" x="-13.15" y="0" font-size="8.3" fill="#222" stroke="#222" stroke-width="0.25" textLength="26.3" lengthAdjust="spacingAndGlyphs">HU (mean)</text>
<polyline points="296.40,56.74 322.50,60.17 374.70,62.22" fill="none" stroke="#2f6e8e" stroke-width="0.9" stroke-dasharray="2,1.2"/>
<circle cx="296.40" cy="56.74" r="1.15" fill="#111"/>
<circle cx="322.50" cy="60.17" r="1.15" fill="#111"/>
<circle cx="374.70" cy="62.22" r="1.15" fill="#111"/>
<polyline points="296.40,77.30 322.50,77.98 374.70,77.07" fill="none" stroke="#6cc06a" stroke-width="0.9" stroke-dasharray="2,1.2"/>
<circle cx="296.40" cy="77.30" r="1.15" fill="#111"/>
<circle cx="322.50" cy="77.98" r="1.15" fill="#111"/>
<circle cx="374.70" cy="77.07" r="1.15" fill="#111"/>
<polyline points="296.40,74.56 322.50,85.52 374.70,44.41" fill="none" stroke="#b8304a" stroke-width="0.95" />
<circle cx="296.40" cy="74.56" r="1.15" fill="#111"/>
<circle cx="322.50" cy="85.52" r="1.15" fill="#111"/>
<circle cx="374.70" cy="44.41" r="1.15" fill="#111"/>
<line x1="296.2" y1="122" x2="302.2" y2="122" stroke="#b8304a" stroke-width="0.75" />
<circle cx="299.4" cy="122" r="1.1" fill="#111"/>
<text x="305.5" y="124.15" font-size="6.1" fill="#1a1a1a" text-anchor="start" font-weight="normal" stroke="#1a1a1a" stroke-width="0.14" >D11 Lesion</text>
<line x1="296.2" y1="132" x2="302.2" y2="132" stroke="#2f6e8e" stroke-width="0.75" stroke-dasharray="1.5,1"/>
<circle cx="299.4" cy="132" r="1.1" fill="#111"/>
<text x="305.5" y="134.15" font-size="6.1" fill="#1a1a1a" text-anchor="start" font-weight="normal" stroke="#1a1a1a" stroke-width="0.14" >Reference vertebral body</text>
<line x1="296.2" y1="141.8" x2="302.2" y2="141.8" stroke="#6cc06a" stroke-width="0.75" stroke-dasharray="1.5,1"/>
<circle cx="299.4" cy="141.8" r="1.1" fill="#111"/>
<text x="305.5" y="143.95000000000002" font-size="6.1" fill="#1a1a1a" text-anchor="start" font-weight="normal" stroke="#1a1a1a" stroke-width="0.14" >Reference striated muscle</text>
<line x1="163.3" y1="184.2" x2="163.3" y2="244.7" stroke="#333" stroke-width="1.1"/>
<line x1="162.8" y1="244.2" x2="252" y2="244.2" stroke="#333" stroke-width="1.1"/>
<line x1="160.3" y1="244.20" x2="163.3" y2="244.20" stroke="#333" stroke-width="0.9"/>
<text x="157.8" y="246.5" font-size="6.4" fill="#222" text-anchor="end" font-weight="normal" stroke="#222" stroke-width="0.14" >0</text>
<line x1="160.3" y1="229.90" x2="163.3" y2="229.90" stroke="#333" stroke-width="0.9"/>
<text x="157.8" y="232.2" font-size="6.4" fill="#222" text-anchor="end" font-weight="normal" stroke="#222" stroke-width="0.14" >1</text>
<line x1="160.3" y1="215.60" x2="163.3" y2="215.60" stroke="#333" stroke-width="0.9"/>
<text x="157.8" y="217.9" font-size="6.4" fill="#222" text-anchor="end" font-weight="normal" stroke="#222" stroke-width="0.14" >2</text>
<line x1="160.3" y1="201.30" x2="163.3" y2="201.30" stroke="#333" stroke-width="0.9"/>
<text x="157.8" y="203.6" font-size="6.4" fill="#222" text-anchor="end" font-weight="normal" stroke="#222" stroke-width="0.14" >3</text>
<line x1="160.3" y1="187.00" x2="163.3" y2="187.00" stroke="#333" stroke-width="0.9"/>
<text x="157.8" y="189.3" font-size="6.4" fill="#222" text-anchor="end" font-weight="normal" stroke="#222" stroke-width="0.14" >4</text>
<line x1="163.30" y1="244.2" x2="163.30" y2="247.2" stroke="#333" stroke-width="0.9"/>
<text x="163.3" y="255.5" font-size="6.4" fill="#222" text-anchor="middle" font-weight="normal" stroke="#222" stroke-width="0.14" >0</text>
<line x1="180.60" y1="244.2" x2="180.60" y2="247.2" stroke="#333" stroke-width="0.9"/>
<text x="180.60000000000002" y="255.5" font-size="6.4" fill="#222" text-anchor="middle" font-weight="normal" stroke="#222" stroke-width="0.14" >2</text>
<line x1="197.90" y1="244.2" x2="197.90" y2="247.2" stroke="#333" stroke-width="0.9"/>
<text x="197.9" y="255.5" font-size="6.4" fill="#222" text-anchor="middle" font-weight="normal" stroke="#222" stroke-width="0.14" >4</text>
<line x1="215.20" y1="244.2" x2="215.20" y2="247.2" stroke="#333" stroke-width="0.9"/>
<text x="215.20000000000002" y="255.5" font-size="6.4" fill="#222" text-anchor="middle" font-weight="normal" stroke="#222" stroke-width="0.14" >6</text>
<line x1="232.50" y1="244.2" x2="232.50" y2="247.2" stroke="#333" stroke-width="0.9"/>
<text x="232.5" y="255.5" font-size="6.4" fill="#222" text-anchor="middle" font-weight="normal" stroke="#222" stroke-width="0.14" >8</text>
<line x1="249.80" y1="244.2" x2="249.80" y2="247.2" stroke="#333" stroke-width="0.9"/>
<text x="249.8" y="255.5" font-size="6.4" fill="#222" text-anchor="middle" font-weight="normal" stroke="#222" stroke-width="0.14" >10</text>
<text x="187.95" y="266.90" font-size="7.9" fill="#222" stroke="#222" stroke-width="0.36" textLength="39.2" lengthAdjust="spacingAndGlyphs">Months elapsed</text>
<text transform="translate(148.8,214) rotate(-90)" x="-11.25" y="0" font-size="8.3" fill="#222" stroke="#222" stroke-width="0.25" textLength="22.5" lengthAdjust="spacingAndGlyphs">SUV max</text>
<polyline points="163.30,229.90 189.25,228.90 241.15,228.47" fill="none" stroke="#44606f" stroke-width="0.9" stroke-dasharray="2,1.2"/>
<circle cx="163.30" cy="229.90" r="1.15" fill="#111"/>
<circle cx="189.25" cy="228.90" r="1.15" fill="#111"/>
<circle cx="241.15" cy="228.47" r="1.15" fill="#111"/>
<polyline points="163.30,195.58 189.25,222.32 241.15,225.04" fill="none" stroke="#b8304a" stroke-width="0.95" />
<circle cx="163.30" cy="195.58" r="1.15" fill="#111"/>
<circle cx="189.25" cy="222.32" r="1.15" fill="#111"/>
<circle cx="241.15" cy="225.04" r="1.15" fill="#111"/>
<line x1="296.5" y1="184.2" x2="296.5" y2="244.7" stroke="#333" stroke-width="1.1"/>
<line x1="296.0" y1="244.2" x2="385.6" y2="244.2" stroke="#333" stroke-width="1.1"/>
<line x1="293.5" y1="244.20" x2="296.5" y2="244.20" stroke="#333" stroke-width="0.9"/>
<text x="291.0" y="246.5" font-size="6.4" fill="#222" text-anchor="end" font-weight="normal" stroke="#222" stroke-width="0.14" >0</text>
<line x1="293.5" y1="229.95" x2="296.5" y2="229.95" stroke="#333" stroke-width="0.9"/>
<text x="291.0" y="232.25" font-size="6.4" fill="#222" text-anchor="end" font-weight="normal" stroke="#222" stroke-width="0.14" >20</text>
<line x1="293.5" y1="215.70" x2="296.5" y2="215.70" stroke="#333" stroke-width="0.9"/>
<text x="291.0" y="218.0" font-size="6.4" fill="#222" text-anchor="end" font-weight="normal" stroke="#222" stroke-width="0.14" >40</text>
<line x1="293.5" y1="201.45" x2="296.5" y2="201.45" stroke="#333" stroke-width="0.9"/>
<text x="291.0" y="203.75" font-size="6.4" fill="#222" text-anchor="end" font-weight="normal" stroke="#222" stroke-width="0.14" >60</text>
<line x1="293.5" y1="187.20" x2="296.5" y2="187.20" stroke="#333" stroke-width="0.9"/>
<text x="291.0" y="189.5" font-size="6.4" fill="#222" text-anchor="end" font-weight="normal" stroke="#222" stroke-width="0.14" >80</text>
<line x1="296.50" y1="244.2" x2="296.50" y2="247.2" stroke="#333" stroke-width="0.9"/>
<text x="296.5" y="255.5" font-size="6.4" fill="#222" text-anchor="middle" font-weight="normal" stroke="#222" stroke-width="0.14" >0</text>
<line x1="313.86" y1="244.2" x2="313.86" y2="247.2" stroke="#333" stroke-width="0.9"/>
<text x="313.86" y="255.5" font-size="6.4" fill="#222" text-anchor="middle" font-weight="normal" stroke="#222" stroke-width="0.14" >2</text>
<line x1="331.22" y1="244.2" x2="331.22" y2="247.2" stroke="#333" stroke-width="0.9"/>
<text x="331.22" y="255.5" font-size="6.4" fill="#222" text-anchor="middle" font-weight="normal" stroke="#222" stroke-width="0.14" >4</text>
<line x1="348.58" y1="244.2" x2="348.58" y2="247.2" stroke="#333" stroke-width="0.9"/>
<text x="348.58" y="255.5" font-size="6.4" fill="#222" text-anchor="middle" font-weight="normal" stroke="#222" stroke-width="0.14" >6</text>
<line x1="365.94" y1="244.2" x2="365.94" y2="247.2" stroke="#333" stroke-width="0.9"/>
<text x="365.94" y="255.5" font-size="6.4" fill="#222" text-anchor="middle" font-weight="normal" stroke="#222" stroke-width="0.14" >8</text>
<line x1="383.30" y1="244.2" x2="383.30" y2="247.2" stroke="#333" stroke-width="0.9"/>
<text x="383.3" y="255.5" font-size="6.4" fill="#222" text-anchor="middle" font-weight="normal" stroke="#222" stroke-width="0.14" >10</text>
<text x="321.30" y="266.90" font-size="7.9" fill="#222" stroke="#222" stroke-width="0.36" textLength="39.2" lengthAdjust="spacingAndGlyphs">Months elapsed</text>
<text transform="translate(277.8,214.4) rotate(-90)" x="-13.15" y="0" font-size="8.3" fill="#222" stroke="#222" stroke-width="0.25" textLength="26.3" lengthAdjust="spacingAndGlyphs">HU (mean)</text>
<polyline points="296.50,219.26 322.54,222.40 374.62,217.69" fill="none" stroke="#44606f" stroke-width="0.9" stroke-dasharray="2,1.2"/>
<circle cx="296.50" cy="219.26" r="1.15" fill="#111"/>
<circle cx="322.54" cy="222.40" r="1.15" fill="#111"/>
<circle cx="374.62" cy="217.69" r="1.15" fill="#111"/>
<polyline points="296.50,193.83 322.54,199.38 374.62,206.44" fill="none" stroke="#b8304a" stroke-width="0.95" />
<circle cx="296.50" cy="193.83" r="1.15" fill="#111"/>
<circle cx="322.54" cy="199.38" r="1.15" fill="#111"/>
<circle cx="374.62" cy="206.44" r="1.15" fill="#111"/>
<line x1="425.8" y1="184.4" x2="425.8" y2="244.7" stroke="#333" stroke-width="1.1"/>
<line x1="425.3" y1="244.2" x2="513.3" y2="244.2" stroke="#333" stroke-width="1.1"/>
<line x1="422.8" y1="244.20" x2="425.8" y2="244.20" stroke="#333" stroke-width="0.9"/>
<text x="420.3" y="246.5" font-size="6.4" fill="#222" text-anchor="end" font-weight="normal" stroke="#222" stroke-width="0.14" >0</text>
<line x1="422.8" y1="225.20" x2="425.8" y2="225.20" stroke="#333" stroke-width="0.9"/>
<text x="420.3" y="227.5" font-size="6.4" fill="#222" text-anchor="end" font-weight="normal" stroke="#222" stroke-width="0.14" >1</text>
<line x1="422.8" y1="206.20" x2="425.8" y2="206.20" stroke="#333" stroke-width="0.9"/>
<text x="420.3" y="208.5" font-size="6.4" fill="#222" text-anchor="end" font-weight="normal" stroke="#222" stroke-width="0.14" >2</text>
<line x1="422.8" y1="187.20" x2="425.8" y2="187.20" stroke="#333" stroke-width="0.9"/>
<text x="420.3" y="189.5" font-size="6.4" fill="#222" text-anchor="end" font-weight="normal" stroke="#222" stroke-width="0.14" >3</text>
<line x1="425.80" y1="244.2" x2="425.80" y2="247.2" stroke="#333" stroke-width="0.9"/>
<text x="425.8" y="255.5" font-size="6.4" fill="#222" text-anchor="middle" font-weight="normal" stroke="#222" stroke-width="0.14" >0</text>
<line x1="442.66" y1="244.2" x2="442.66" y2="247.2" stroke="#333" stroke-width="0.9"/>
<text x="442.66" y="255.5" font-size="6.4" fill="#222" text-anchor="middle" font-weight="normal" stroke="#222" stroke-width="0.14" >2</text>
<line x1="459.52" y1="244.2" x2="459.52" y2="247.2" stroke="#333" stroke-width="0.9"/>
<text x="459.52" y="255.5" font-size="6.4" fill="#222" text-anchor="middle" font-weight="normal" stroke="#222" stroke-width="0.14" >4</text>
<line x1="476.38" y1="244.2" x2="476.38" y2="247.2" stroke="#333" stroke-width="0.9"/>
<text x="476.38" y="255.5" font-size="6.4" fill="#222" text-anchor="middle" font-weight="normal" stroke="#222" stroke-width="0.14" >6</text>
<line x1="493.24" y1="244.2" x2="493.24" y2="247.2" stroke="#333" stroke-width="0.9"/>
<text x="493.24" y="255.5" font-size="6.4" fill="#222" text-anchor="middle" font-weight="normal" stroke="#222" stroke-width="0.14" >8</text>
<line x1="510.10" y1="244.2" x2="510.10" y2="247.2" stroke="#333" stroke-width="0.9"/>
<text x="510.1" y="255.5" font-size="6.4" fill="#222" text-anchor="middle" font-weight="normal" stroke="#222" stroke-width="0.14" >10</text>
<text x="449.35" y="266.90" font-size="7.9" fill="#222" stroke="#222" stroke-width="0.36" textLength="39.2" lengthAdjust="spacingAndGlyphs">Months elapsed</text>
<text transform="translate(410.8,214.2) rotate(-90)" x="-21.25" y="0" font-size="8.3" fill="#222" stroke="#222" stroke-width="0.25" textLength="42.5" lengthAdjust="spacingAndGlyphs">Lesion size (cm<tspan font-size="5.5" dy="-3">2</tspan><tspan dy="3">)</tspan></text>
<polyline points="425.80,223.30 451.09,226.53 501.67,225.77" fill="none" stroke="#44606f" stroke-width="0.9" stroke-dasharray="2,1.2"/>
<circle cx="425.80" cy="223.30" r="1.15" fill="#111"/>
<circle cx="451.09" cy="226.53" r="1.15" fill="#111"/>
<circle cx="501.67" cy="225.77" r="1.15" fill="#111"/>
<polyline points="425.80,191.38 451.09,199.36 501.67,218.55" fill="none" stroke="#b8304a" stroke-width="0.95" />
<circle cx="425.80" cy="191.38" r="1.15" fill="#111"/>
<circle cx="451.09" cy="199.36" r="1.15" fill="#111"/>
<circle cx="501.67" cy="218.55" r="1.15" fill="#111"/>
</g>
<rect x="0.5" y="0.5" width="519" height="298" fill="none" stroke="#4a4a4a" stroke-width="1"/>
</svg>
</body></html>
